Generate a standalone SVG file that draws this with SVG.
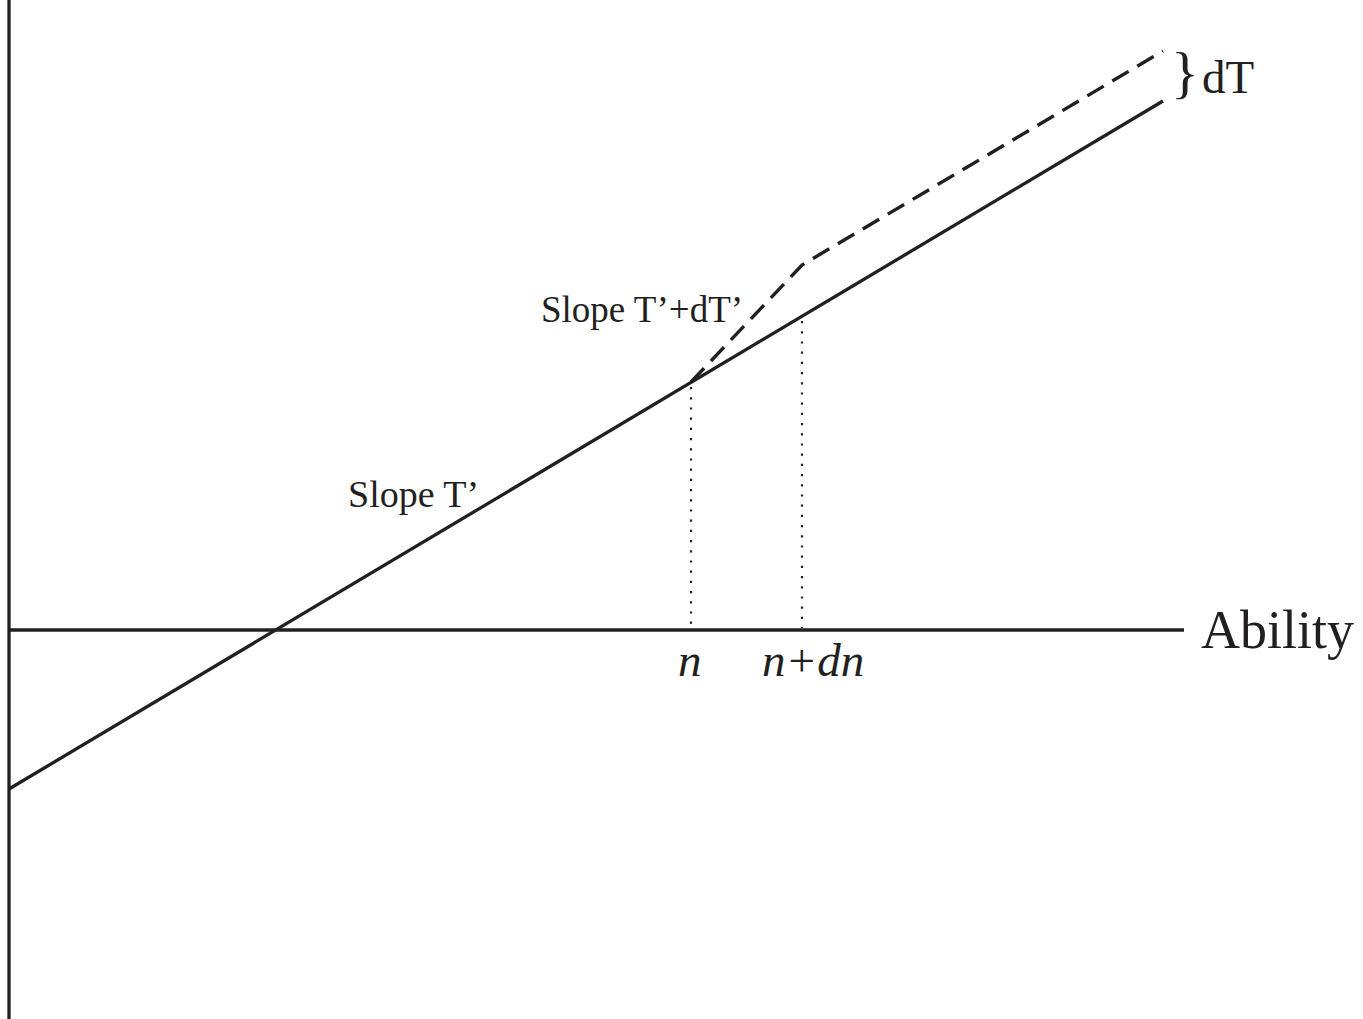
<svg xmlns="http://www.w3.org/2000/svg" width="1363" height="1019" viewBox="0 0 1363 1019">
<style>
.ax{stroke:#231f20;stroke-width:3.3;fill:none}
.dash{stroke:#231f20;stroke-width:3.4;fill:none;stroke-dasharray:19 10}
.dot{stroke:#231f20;stroke-width:2.2;fill:none;stroke-dasharray:2.2 8}
.t{font-family:"Liberation Serif",serif;fill:#231f20}
.i{font-style:italic}
</style>
<rect width="1363" height="1019" fill="#fff"/>
<g id="connectors">
<line class="ax" x1="9" y1="0" x2="9" y2="1019"/>
<line class="ax" x1="9" y1="630" x2="1184" y2="630"/>
<line class="ax" x1="9" y1="789" x2="1163" y2="101"/>
<polyline class="dash" points="691,382 802,265 1163,51"/>
<line class="dot" x1="691" y1="387" x2="691" y2="628"/>
<line class="dot" x1="802" y1="321" x2="802" y2="628"/>
</g>
<g id="label-dT"><text class="t" x="1171" y="92" font-size="58">}</text><text class="t" x="1202" y="93" font-size="47">dT</text></g>
<g id="label-ability"><text class="t" x="1201" y="648" font-size="54">Ability</text></g>
<g id="label-n"><text class="t i" x="678" y="676" font-size="47">n</text></g>
<g id="label-ndn"><text class="t i" x="762" y="676" font-size="47">n+dn</text></g>
<g id="label-slope"><text class="t" x="348" y="507" font-size="38">Slope T’</text></g>
<g id="label-slope2"><text class="t" x="541" y="322" font-size="37">Slope T’+dT’</text></g>
</svg>
